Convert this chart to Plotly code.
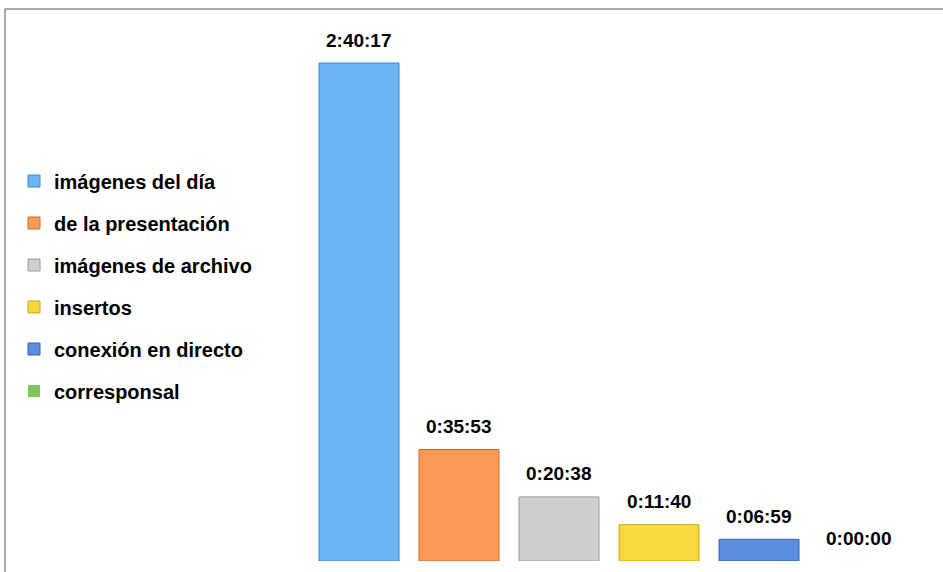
import plotly.graph_objects as go

categories = ["imágenes del día", "de la presentación", "imágenes de archivo",
              "insertos", "conexión en directo", "corresponsal"]
durations = ["2:40:17", "0:35:53", "0:20:38", "0:11:40", "0:06:59", "0:00:00"]
colors = ["#6DB6F6", "#FA9A55", "#CFCFCF", "#F7D83E", "#5C8EE0", "#7CC65A"]
edge_colors = ["#3F86CC", "#D06A24", "#9A9A9A", "#C9A714", "#3560B0", "#4C9A33"]


def to_seconds(s):
    h, m, sec = (int(p) for p in s.split(":"))
    return h * 3600 + m * 60 + sec


seconds = [to_seconds(d) for d in durations]

W, H = 943, 572
ml, mr, mt, mb = 309, 34, 30, 11
pw, ph = W - ml - mr, H - mt - mb

fig = go.Figure()
for i, (cat, val, c, ec) in enumerate(zip(categories, seconds, colors, edge_colors)):
    fig.add_trace(go.Bar(
        x=[i], y=[val], name="<b>%s</b>" % cat, width=0.8,
        marker=dict(color=c, line=dict(color=ec, width=1 if val > 0 else 0)),
        legendgroup=cat, showlegend=True, hoverinfo="skip",
    ))
    fig.add_annotation(x=i, y=val, text="<b>%s</b>" % durations[i], showarrow=False,
                       yanchor="middle", yshift=23,
                       font=dict(family="Liberation Sans, Arial", size=19, color="#000"))


def px_x(p):
    return (p - ml) / pw


def px_y(p):
    return (H - mb - p) / ph


fig.add_shape(type="line", xref="paper", yref="paper",
              x0=px_x(5), x1=px_x(W + 5), y0=px_y(9), y1=px_y(9),
              line=dict(color="#8C8C8C", width=1.5))
fig.add_shape(type="line", xref="paper", yref="paper",
              x0=px_x(5), x1=px_x(5), y0=px_y(9), y1=px_y(H + 5),
              line=dict(color="#8C8C8C", width=1.5))

fig.update_layout(
    width=W, height=H,
    margin=dict(l=ml, r=mr, t=mt, b=mb),
    paper_bgcolor="white", plot_bgcolor="white",
    barmode="overlay",
    showlegend=True,
    legend=dict(x=px_x(14), xanchor="left", y=px_y(286), yanchor="middle",
                font=dict(family="Liberation Sans, Arial", size=20, color="#000"),
                tracegroupgap=13, traceorder="grouped", bgcolor="rgba(0,0,0,0)"),
    xaxis=dict(range=[-0.5, 5.5], visible=False, fixedrange=True),
    yaxis=dict(range=[0, (H - mb - mt) / (498 / seconds[0])], visible=False, fixedrange=True),
    font=dict(family="Liberation Sans, Arial"),
)

fig.write_html("out.html", config={"displayModeBar": False},
               post_script="document.body.style.margin='0';document.body.style.overflow='hidden';")
